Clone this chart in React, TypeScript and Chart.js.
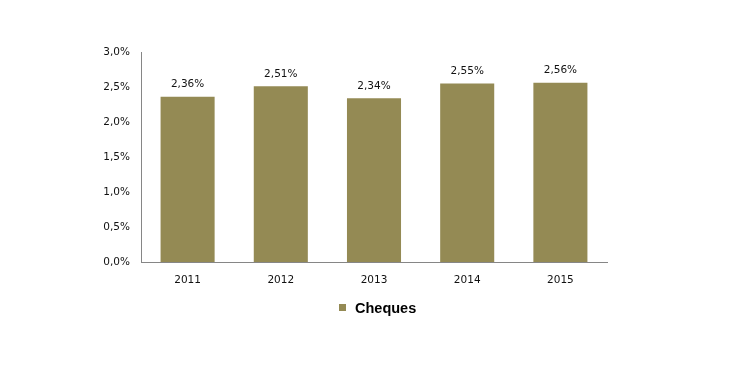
import React, { useEffect, useRef } from "react";
import { Chart, registerables } from "chart.js";

Chart.register(...registerables);

const categories = ["2011", "2012", "2013", "2014", "2015"];
const chequesValues = [2.36, 2.51, 2.34, 2.55, 2.56];
const seriesLabel = "Cheques";
const yTickValues = [0, 0.5, 1.0, 1.5, 2.0, 2.5, 3.0];

const BAR_COLOR = "#948A54";
const AXIS_COLOR = "#868686";
const TEXT_COLOR = "#111111";

const fmt = (v: number, d: number) => v.toFixed(d).replace(".", ",") + "%";

const dataLabelPlugin = {
  id: "dataLabels",
  afterDatasetsDraw(chart: any) {
    const ctx = chart.ctx;
    ctx.save();
    ctx.font = "10.5px 'DejaVu Sans'";
    ctx.fillStyle = TEXT_COLOR;
    ctx.textAlign = "center";
    ctx.textBaseline = "bottom";
    chart.data.datasets.forEach((ds: any, i: number) => {
      const meta = chart.getDatasetMeta(i);
      meta.data.forEach((bar: any, j: number) => {
        ctx.fillText(fmt(ds.data[j], 2), bar.x, bar.y - 7);
      });
    });
    ctx.restore();
  },
};

const legendPlugin = {
  id: "customLegend",
  afterDraw(chart: any) {
    const ctx = chart.ctx;
    const ds = chart.data.datasets[0];
    ctx.save();
    ctx.fillStyle = ds.backgroundColor;
    ctx.fillRect(339, 304, 7, 7);
    ctx.font = "bold 14.5px 'Liberation Sans', Arial, sans-serif";
    ctx.fillStyle = "#000000";
    ctx.textAlign = "left";
    ctx.textBaseline = "middle";
    ctx.fillText(ds.label, 355, 309);
    ctx.restore();
  },
};

export default function App() {
  const ref = useRef<HTMLCanvasElement>(null);
  useEffect(() => {
    if (!ref.current) return;
    const chart = new Chart(ref.current, {
      type: "bar",
      data: {
        labels: categories,
        datasets: [
          {
            label: seriesLabel,
            data: chequesValues,
            backgroundColor: BAR_COLOR,
            categoryPercentage: 0.58,
            barPercentage: 1,
          },
        ],
      },
      options: {
        responsive: false,
        animation: false,
        devicePixelRatio: 1,
        layout: { padding: { top: 52, right: 125, left: 0, bottom: 0 } },
        plugins: { legend: { display: false }, tooltip: { enabled: false } },
        scales: {
          x: {
            grid: { display: false, drawTicks: false },
            border: { display: true, color: AXIS_COLOR, width: 1 },
            ticks: {
              color: TEXT_COLOR,
              font: { family: "'DejaVu Sans'", size: 10.5 },
              padding: 12,
            },
            afterFit(scale: any) {
              scale.height = 105;
            },
          },
          y: {
            min: 0,
            max: 3,
            grid: { display: false, drawTicks: false },
            border: { display: true, color: AXIS_COLOR, width: 1 },
            afterBuildTicks(scale: any) {
              scale.ticks = yTickValues.map((v) => ({ value: v }));
            },
            ticks: {
              color: TEXT_COLOR,
              font: { family: "'DejaVu Sans'", size: 10.5 },
              padding: 11,
              callback: (v: any) => fmt(Number(v), 1),
            },
            afterFit(scale: any) {
              scale.width = 141;
            },
          },
        },
      },
      plugins: [dataLabelPlugin, legendPlugin],
    });
    return () => chart.destroy();
  }, []);
  return (
    <div style={{ position: "fixed", left: 0, top: 0, width: 732, height: 367, background: "#fff" }}>
      <canvas ref={ref} width={732} height={367} style={{ display: "block" }} />
    </div>
  );
}
